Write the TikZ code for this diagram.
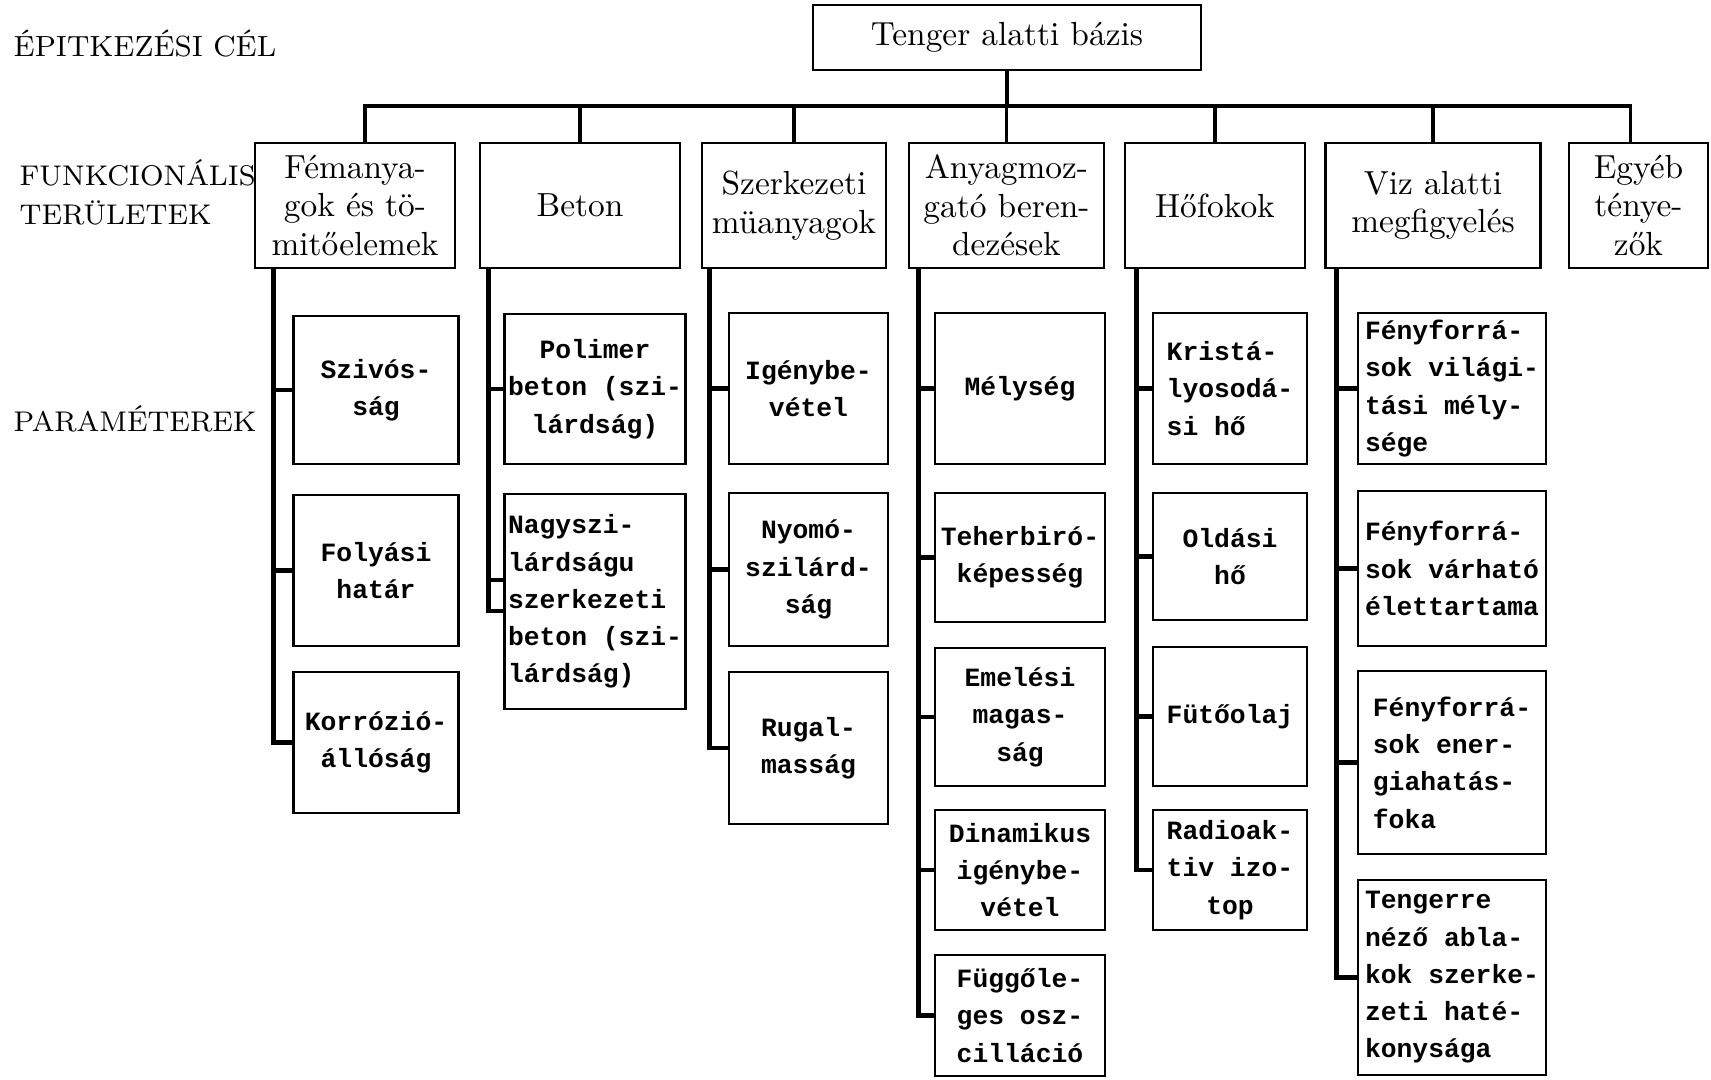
\documentclass[tikz,border=0pt]{standalone}
\usepackage{fontspec}
\newfontfamily\parfont{Liberation Mono}
\tikzset{
  topbox/.style={rectangle, draw, line width=0.6pt, minimum width=3.88cm,
    minimum height=0.65cm, font=\fontsize{9.5}{11}\selectfont},
  areabox/.style={rectangle, draw, line width=0.6pt, minimum height=1.25cm,
    align=center, inner sep=1pt, font=\fontsize{9.5}{11}\selectfont},
  parbox/.style={rectangle, draw, line width=0.6pt, align=center, inner sep=1pt,
    font=\parfont\bfseries\fontsize{7.5}{10.6}\selectfont},
  bus/.style={line width=1.1pt},
  tie/.style={line width=1.4pt},
  hdr/.style={anchor=west, align=left, inner sep=0pt, font=\fontsize{8.1}{11.1}\selectfont},
}
\begin{document}
\begin{tikzpicture}

\useasboundingbox (0,0) rectangle (17.11,-10.79);

\def\yarea{-2.055}
\def\xa{3.76}
\def\xb{5.95}
\def\xc{8.085}
\def\xd{10.20}
\def\xe{12.30}
\def\xf{14.52}

% ── row labels ──────────────────────────────────────────────────────────────
\node[hdr, font=\fontsize{8.3}{11.1}\selectfont] (lcel) at (0.13,-0.44) {ÉPITKEZÉSI CÉL};
\node[hdr] (lfun) at (0.19,-1.925) {FUNKCIONÁLIS\\TERÜLETEK};
\node[hdr] (lpar) at (0.13,-4.19) {PARAMÉTEREK};

% ── goal and functional areas ───────────────────────────────────────────────
\node[topbox] (goal) at (10.07,-0.375) {Tenger alatti bázis};
\node[areabox, minimum width=2.00cm] (fem) at (3.55,\yarea) {Fémanya-\\gok és tö-\\mitőelemek};
\node[areabox, minimum width=2.00cm] (bet) at (5.80,\yarea) {Beton};
\node[areabox, minimum width=1.84cm] (szm) at (7.94,\yarea) {Szerkezeti\\müanyagok};
\node[areabox, minimum width=1.95cm] (any) at (10.065,\yarea) {Anyagmoz-\\gató beren-\\dezések};
\node[areabox, minimum width=1.80cm] (hof) at (12.15,\yarea) {Hőfokok};
\node[areabox, minimum width=2.15cm] (viz) at (14.33,\yarea) {Viz alatti\\megfigyelés};
\node[areabox, minimum width=1.39cm] (egy) at (16.385,\yarea) {Egyéb\\ténye-\\zők};

\coordinate (bus) at (0,-1.06);
\draw[bus] ([xshift=0.1cm]fem.north) -- ([xshift=0.1cm]fem.north |- bus)
  -- ([xshift=-0.08cm]egy.north |- bus) -- ([xshift=-0.08cm]egy.north);
\draw[bus] (goal.south) -- (goal.south |- bus);
\foreach \a in {bet,szm,any,hof,viz}
  \draw[bus] (\a.north) -- (\a.north |- bus);

% ── column 1: fémanyagok ────────────────────────────────────────────────────
\node[parbox, minimum width=1.65cm, minimum height=1.48cm] (p11) at (\xa,-3.90) {Szivós-\\ság};
\node[parbox, minimum width=1.65cm, minimum height=1.51cm] (p12) at (\xa,-5.705) {Folyási\\határ};
\node[parbox, minimum width=1.65cm, minimum height=1.41cm] (p13) at (\xa,-7.425) {Korrózió-\\állóság};
\coordinate (s1) at ([xshift=0.20cm]fem.south west);
\draw[tie] (s1) |- (p13.west);
\foreach \p in {p11,p12}
  \draw[tie] (s1 |- \p.west) -- (\p.west);

% ── column 2: beton ─────────────────────────────────────────────────────────
\node[parbox, minimum width=1.76cm, minimum height=1.50cm] (p21) at (\xb,-3.89) {Polimer\\beton (szi-\\lárdság)};
\node[parbox, minimum width=1.77cm, minimum height=2.15cm, align=left] (p22) at (\xb,-6.015)
  {Nagyszi-\\lárdságu\\szerkezeti\\beton (szi-\\lárdság)};
\coordinate (s2) at ([xshift=0.10cm]bet.south west);
\coordinate (p22a) at ([yshift=0.215cm]p22.west);
\coordinate (p22b) at ([yshift=-0.095cm]p22.west);
\draw[tie] (s2) |- (p22b);
\draw[tie] (s2 |- p22a) -- (p22a);
\draw[tie] (s2 |- p21.west) -- (p21.west);

% ── column 3: szerkezeti müanyagok ──────────────────────────────────────────
\node[parbox, minimum width=1.59cm, minimum height=1.51cm] (p31) at (\xc,-3.885) {Igénybe-\\vétel};
\node[parbox, minimum width=1.59cm, minimum height=1.53cm] (p32) at (\xc,-5.695) {Nyomó-\\szilárd-\\ság};
\node[parbox, minimum width=1.59cm, minimum height=1.52cm] (p33) at (\xc,-7.48) {Rugal-\\masság};
\coordinate (s3) at ([xshift=0.09cm]szm.south west);
\draw[tie] (s3) |- (p33.west);
\foreach \p in {p31,p32}
  \draw[tie] (s3 |- \p.west) -- (\p.west);

% ── column 4: anyagmozgató berendezések ─────────────────────────────────────
\node[parbox, minimum width=1.70cm, minimum height=1.51cm] (p41) at (\xd,-3.885) {Mélység};
\node[parbox, minimum width=1.70cm, minimum height=1.29cm] (p42) at (\xd,-5.575) {Teherbiró-\\képesség};
\node[parbox, minimum width=1.70cm, minimum height=1.38cm] (p43) at (\xd,-7.17) {Emelési\\magas-\\ság};
\node[parbox, minimum width=1.70cm, minimum height=1.20cm] (p44) at (\xd,-8.70) {Dinamikus\\igénybe-\\vétel};
\node[parbox, minimum width=1.70cm, minimum height=1.21cm, align=left] (p45) at (\xd,-10.155) {Függőle-\\ges osz-\\cilláció};
\coordinate (s4) at ([xshift=0.11cm]any.south west);
\draw[tie] (s4) |- (p45.west);
\foreach \p in {p41,p42,p43,p44}
  \draw[tie] (s4 |- \p.west) -- (\p.west);

% ── column 5: hőfokok ───────────────────────────────────────────────────────
\node[parbox, minimum width=1.54cm, minimum height=1.51cm, align=left] (p51) at (\xe,-3.885) {Kristá-\\lyosodá-\\si hő};
\node[parbox, minimum width=1.54cm, minimum height=1.27cm] (p52) at (\xe,-5.565) {Oldási\\hő};
\node[parbox, minimum width=1.54cm, minimum height=1.39cm] (p53) at (\xe,-7.165) {Fütőolaj};
\node[parbox, minimum width=1.54cm, minimum height=1.20cm] (p54) at (\xe,-8.70) {Radioak-\\tiv izo-\\top};
\coordinate (s5) at ([xshift=0.13cm]hof.south west);
\draw[tie] (s5) |- (p54.west);
\foreach \p in {p51,p52,p53}
  \draw[tie] (s5 |- \p.west) -- (\p.west);

% ── column 6: viz alatti megfigyelés ────────────────────────────────────────
\node[parbox, minimum width=1.88cm, minimum height=1.51cm, align=left] (p61) at (\xf,-3.885)
  {Fényforrá-\\sok világi-\\tási mély-\\sége};
\node[parbox, minimum width=1.88cm, minimum height=1.55cm, align=left] (p62) at (\xf,-5.685)
  {Fényforrá-\\sok várható\\élettartama};
\node[parbox, minimum width=1.88cm, minimum height=1.83cm, align=left] (p63) at (\xf,-7.625)
  {Fényforrá-\\sok ener-\\giahatás-\\foka};
\node[parbox, minimum width=1.88cm, minimum height=1.95cm, align=left] (p64) at (\xf,-9.775)
  {Tengerre\\néző abla-\\kok szerke-\\zeti haté-\\konysága};
\coordinate (s6) at ([xshift=0.125cm]viz.south west);
\draw[tie] (s6) |- (p64.west);
\foreach \p in {p61,p62,p63}
  \draw[tie] (s6 |- \p.west) -- (\p.west);

\end{tikzpicture}
\end{document}
